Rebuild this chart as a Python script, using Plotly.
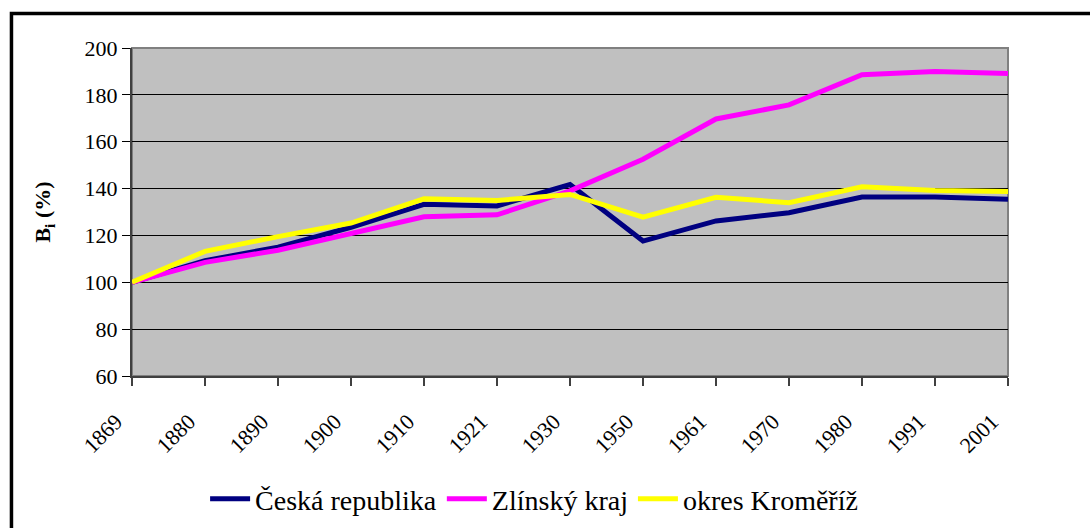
import plotly.graph_objects as go

years = ["1869", "1880", "1890", "1900", "1910", "1921", "1930",
         "1950", "1961", "1970", "1980", "1991", "2001"]
ceska_republika = [100, 109.2, 115.0, 123.5, 133.3, 132.6, 141.7,
                   117.6, 126.2, 129.7, 136.4, 136.4, 135.4]
zlinsky_kraj = [100, 108.5, 113.7, 121.0, 128.0, 128.8, 139.0,
                152.5, 169.7, 175.7, 188.6, 190.0, 189.1]
okres_kromeriz = [100, 113.2, 119.5, 125.3, 135.6, 134.9, 137.5,
                  127.8, 136.3, 134.0, 140.8, 139.2, 138.8]

series = [
    ("Česká republika", ceska_republika, "#000080"),
    ("Zlínský kraj", zlinsky_kraj, "#FF00FF"),
    ("okres Kroměříž", okres_kromeriz, "#FFFF00"),
]

fig = go.Figure()
for name, vals, color in series:
    fig.add_trace(go.Scatter(x=years, y=vals, name=name, mode="lines",
                             line=dict(color=color, width=5)))

font = "Times New Roman, Liberation Serif, DejaVu Serif, serif"
fig.update_layout(
    width=1090, height=528,
    margin=dict(l=132, r=82, t=48, b=152, autoexpand=False),
    paper_bgcolor="white",
    plot_bgcolor="#C0C0C0",
    font=dict(family=font, color="black", size=22),
    showlegend=True,
    legend=dict(orientation="h", xref="container", yref="container",
                x=0.49, xanchor="center", y=0.055, yanchor="middle",
                font=dict(size=28, family=font),
                bgcolor="rgba(0,0,0,0)", itemwidth=40, tracegroupgap=0),
    xaxis=dict(type="category", range=[0, 12], showgrid=False,
               ticks="outside", ticklen=8, tickcolor="#404040", tickwidth=1.5,
               tickangle=-45, tickfont=dict(size=22, family=font),
               ticklabelstandoff=14, ticklabelshift=-16,
               showline=True, linecolor="#404040", linewidth=2,
               zeroline=False, automargin=False),
    yaxis=dict(range=[60, 200], dtick=20, tick0=60,
               showgrid=True, gridcolor="black", gridwidth=1,
               ticks="outside", ticklen=8, tickcolor="black", tickwidth=1,
               tickfont=dict(size=22, family=font),
               showline=True, linecolor="#404040", linewidth=2,
               zeroline=False, automargin=False,
               title=dict(text="<b>B<sub>i</sub> (%)</b>",
                          font=dict(size=22, family=font), standoff=28)),
    shapes=[
        dict(type="rect", xref="paper", yref="paper", x0=0, x1=1, y0=0, y1=1,
             line=dict(color="#808080", width=2), layer="below"),
        dict(type="rect", xref="paper", yref="paper",
             x0=-0.1376, x1=1.2, y0=-0.6, y1=1.105,
             line=dict(color="black", width=3.5)),
    ],
)

fig.write_html(
    "out.html",
    config={"displayModeBar": False},
    post_script="document.body.style.margin='0';document.body.style.overflow='hidden';",
)
